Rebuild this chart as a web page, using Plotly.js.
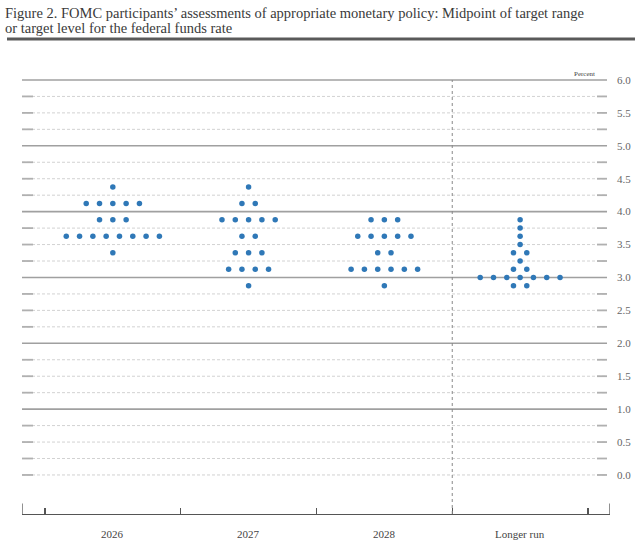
<!DOCTYPE html>
<html>
<head>
<meta charset="utf-8">
<script src="https://cdn.plot.ly/plotly-3.0.1.min.js"></script>
<style>
  html, body { margin: 0; padding: 0; background: #fff; }
  #chart { width: 640px; height: 548px; }
</style>
</head>
<body>
<div id="chart"></div>
<script>
// horizons along the x axis
const categories = ["2026", "2027", "2028", "Longer run"]

// one midpoint per participant
const rates2026 = [4.375,
    4.125, 4.125, 4.125, 4.125, 4.125,
    3.875, 3.875, 3.875,
    3.625, 3.625, 3.625, 3.625, 3.625, 3.625, 3.625, 3.625,
    3.375]
const rates2027 = [4.375,
    4.125, 4.125,
    3.875, 3.875, 3.875, 3.875, 3.875,
    3.625, 3.625,
    3.375, 3.375, 3.375,
    3.125, 3.125, 3.125, 3.125,
    2.875]
const rates2028 = [3.875, 3.875, 3.875,
    3.625, 3.625, 3.625, 3.625, 3.625,
    3.375, 3.375,
    3.125, 3.125, 3.125, 3.125, 3.125, 3.125,
    2.875]
const ratesLonger = [3.875, 3.75, 3.625, 3.5,
    3.375, 3.375,
    3.25,
    3.125, 3.125,
    3.0, 3.0, 3.0, 3.0, 3.0, 3.0, 3.0,
    2.875, 2.875]

const yTicks = [0, 0.5, 1, 1.5, 2, 2.5, 3, 3.5, 4, 4.5, 5, 5.5, 6]

const titleLines = [
    "Figure 2. FOMC participants’ assessments of appropriate monetary policy: Midpoint of target range",
    "or target level for the federal funds rate"
]

// axis geometry (category units)
const xMin = -0.669, xMax = 3.662
const gap = 0.098   // horizontal spacing between dots sharing a level
const dotColor = "#2f78b7"

// spread dots sharing a level symmetrically around the category centre
function spread(rates, idx) {
    const counts = {}
    rates.forEach(r => counts[r] = (counts[r] || 0) + 1)
    const seen = {}
    const x = [], y = []
    rates.forEach(r => {
        const k = seen[r] || 0
        seen[r] = k + 1
        x.push(idx + (k - (counts[r] - 1) / 2) * gap)
        y.push(r)
    })
    return {x, y}
}

const allRates = [rates2026, rates2027, rates2028, ratesLonger]
const data = allRates.map((rates, i) => {
    const p = spread(rates, i)
    return {
        type: "scatter",
        mode: "markers",
        x: p.x,
        y: p.y,
        name: categories[i],
        marker: { size: 5.5, color: dotColor },
        hoverinfo: "y",
        showlegend: false
    }
})

// horizontal rules every quarter point, solid at whole numbers above zero
const shapes = []
for (let v = 0; v <= 6.001; v += 0.25) {
    const whole = Math.abs(v - Math.round(v)) < 1e-6 && v > 0
    shapes.push({
        type: "line", xref: "x", yref: "y", layer: "below",
        x0: xMin, x1: 3.64, y0: v, y1: v,
        line: whole ? { color: "#a0a0a0", width: 1.6 } : { color: "#d2d2d2", width: 1, dash: "3px,2px" }
    })
    if (!whole) {
        shapes.push({
            type: "line", xref: "x", yref: "y", layer: "below",
            x0: xMin, x1: xMin + 0.081, y0: v, y1: v,
            line: { color: "#b0b0b0", width: 1.8 }
        })
        shapes.push({
            type: "line", xref: "x", yref: "y", layer: "below",
            x0: 3.566, x1: 3.64, y0: v, y1: v,
            line: { color: "#b0b0b0", width: 1.8 }
        })
    }
}
// divider before the longer-run column
shapes.push({
    type: "line", xref: "x", yref: "y",
    x0: 2.5, x1: 2.5, y0: -0.593, y1: 6.0,
    line: { color: "#888", width: 1, dash: "dot" }
})
// end ticks of the category axis
;[xMin, xMax].forEach(xv => shapes.push({
    type: "line", xref: "x", yref: "paper",
    x0: xv, x1: xv, y0: 0, y1: 0.024,
    line: { color: "#555", width: 1.3 }
}))
// heavy rule under the figure title
shapes.push({
    type: "line", xref: "paper", yref: "paper",
    x0: -0.0255, x1: 1.0425, y0: 1.0894, y1: 1.0894,
    line: { color: "#5a5a5a", width: 3 }
})

const serif = "Liberation Serif, Times New Roman, serif"

const annotations = categories.map((c, i) => ({
    x: i, y: -0.046, xref: "x", yref: "paper",
    text: c, showarrow: false, yanchor: "middle",
    font: { family: serif, size: 11, color: "#444" }
}))
annotations.push({
    x: 3.566, y: 6.0, xref: "x", yref: "y",
    text: "Percent", showarrow: false,
    xanchor: "right", yanchor: "bottom", yshift: 0,
    font: { family: serif, size: 7, color: "#444" }
})
// figure title, one annotation per line to hold the tight line spacing
titleLines.forEach((t, i) => annotations.push({
    x: -0.0323, y: [1.149, 1.1147][i], xref: "paper", yref: "paper",
    text: t, showarrow: false, xanchor: "left", yanchor: "middle",
    font: { family: serif, size: 14.5, color: "#3a3a3a" }
}))

const layout = {
    width: 640,
    height: 548,
    margin: { l: 22, r: 30, t: 78, b: 34, pad: 0 },
    paper_bgcolor: "#fff",
    plot_bgcolor: "#fff",
    xaxis: {
        range: [xMin, xMax],
        showgrid: false,
        zeroline: false,
        showline: true,
        linecolor: "#555",
        linewidth: 1.3,
        ticks: "inside",
        ticklen: 6,
        tickwidth: 1.2,
        tickcolor: "#555",
        tickvals: [-0.5, 0.5, 1.5, 2.5, 3.5],
        showticklabels: false,
        fixedrange: true
    },
    yaxis: {
        range: [-0.593, 6.03],
        side: "right",
        showgrid: false,
        zeroline: false,
        showline: false,
        ticks: "",
        tickvals: yTicks,
        ticktext: yTicks.map(v => v.toFixed(1)),
        ticklabelstandoff: 6,
        tickfont: { family: serif, size: 11, color: "#666" },
        fixedrange: true
    },
    shapes: shapes,
    annotations: annotations,
    showlegend: false
}

Plotly.newPlot("chart", data, layout, { displayModeBar: false, staticPlot: true })
</script>
</body>
</html>
